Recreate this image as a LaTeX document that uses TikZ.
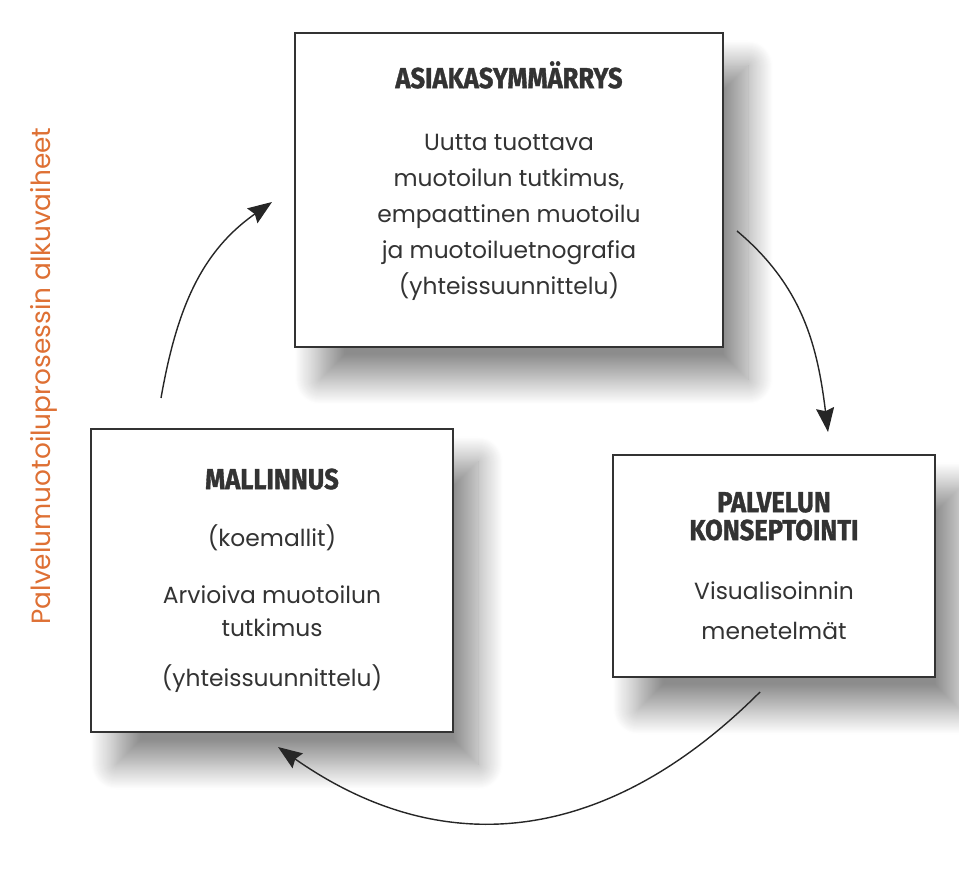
\documentclass[tikz,border=0pt]{standalone}
\usepackage{fontspec}
\setmainfont{Poppins}
\newfontfamily\headfont{Fira Sans}[FakeStretch=0.88,FakeBold=1.2]
\usetikzlibrary{arrows.meta,shadows.blur}
\definecolor{oranssi}{RGB}{222,112,52}
\newcommand{\paaotsikko}[1]{{\headfont\bfseries\fontsize{16.5}{16}\selectfont #1}}
\tikzset{
  laatikko/.style={draw=black!80, line width=0.8pt, fill=white, align=center, inner sep=0pt,
    blur shadow={shadow xshift=0.5cm, shadow yshift=-0.65cm, shadow blur radius=0.5cm,
      shadow blur steps=25, shadow opacity=45},
    font=\fontsize{13.3}{20.5}\selectfont, text=black!80},
  nuoli/.style={-{Stealth[length=4.8mm,width=3.6mm,inset=0.6mm]}, line width=0.8pt, draw=black!85}
}
\begin{document}
\begin{tikzpicture}
  \useasboundingbox (0,0) rectangle (19.18,17.52);
          \node[laatikko, minimum width=8.56cm, minimum height=6.28cm] (b1) at (10.18,13.72)
            {\paaotsikko{ASIAKASYMMÄRRYS}\\[15.2pt]
             Uutta tuottava\\ muotoilun tutkimus,\\ empaattinen muotoilu\\
             ja muotoiluetnografia\\ (yhteissuunnittelu)\\[-7pt]\mbox{}};
          \node[laatikko, minimum width=6.44cm, minimum height=4.44cm] (b2) at (15.48,6.2)
            {\paaotsikko{PALVELUN}\\[-4.6pt]\paaotsikko{KONSEPTOINTI}\\[13.5pt]
             Visualisoinnin\\[2.2pt] menetelmät};
          \node[laatikko, minimum width=7.24cm, minimum height=6.06cm] (b3) at (5.44,5.91)
            {\paaotsikko{MALLINNUS}\\[12.4pt] (koemallit)\\[11.8pt]
             Arvioiva muotoilun\\[-1.8pt] tutkimus\\[7.9pt] (yhteissuunnittelu)};
          \node[rotate=90, text=oranssi, font=\fontsize{15}{15}\selectfont] (sivu) at (0.88,10.0)
            {Palvelumuotoiluprosessin alkuvaiheet};

          \coordinate (p1) at (3.22,9.56);
          \coordinate (p2) at (5.44,13.48);
          \coordinate (p3) at (14.74,12.9);
          \coordinate (p4) at (16.56,8.88);
          \coordinate (p5) at (15.2,3.68);
          \coordinate (p6) at (5.56,2.58);

          \path (p1) edge [nuoli, out=80, in=215] (p2);
          \path (p3) edge [nuoli, out=-40, in=97] (p4);
          \path (p5) edge [nuoli, out=-135, in=-35, looseness=1.1] (p6);
  \end{tikzpicture}
\end{document}
